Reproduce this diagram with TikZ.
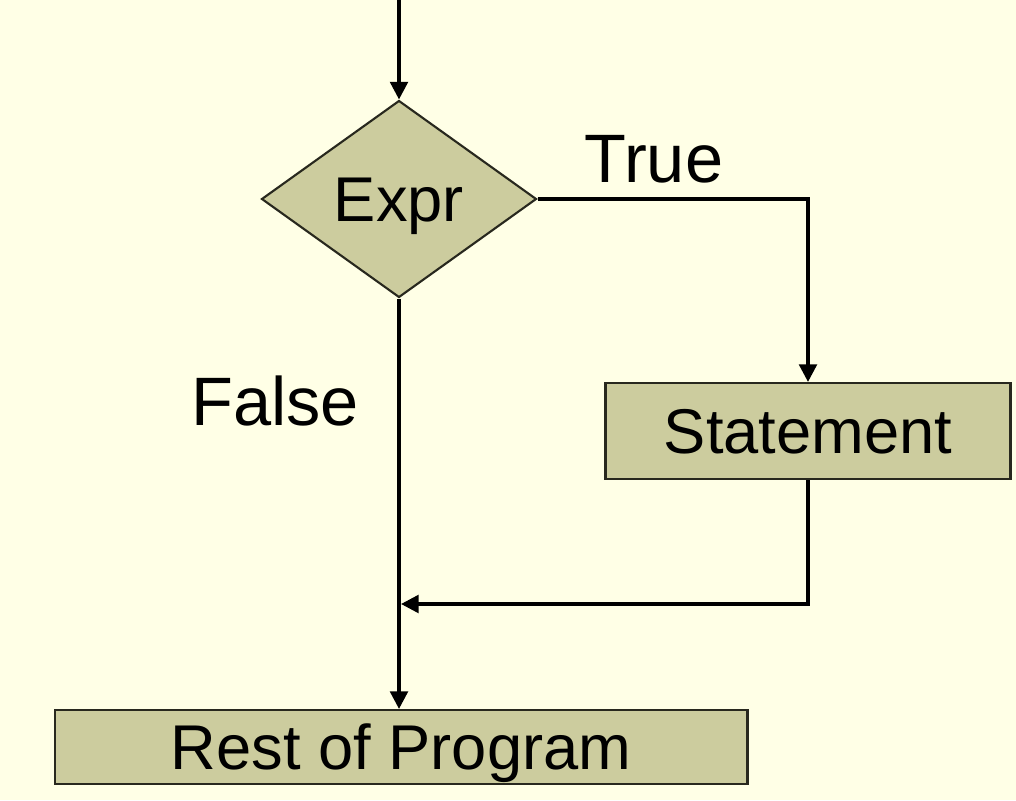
\documentclass[tikz,border=0pt]{standalone}
\usepackage{fontspec}
\setmainfont{Liberation Sans}
\usetikzlibrary{shapes.geometric,arrows.meta}
\definecolor{paper}{RGB}{255,255,230}
\definecolor{khaki}{RGB}{204,204,158}
\definecolor{rim}{RGB}{40,40,30}
\tikzset{
  box/.style={draw=rim, line width=1.2pt, fill=khaki, inner sep=0pt,
    text height=26pt, text depth=0pt, font=\fontsize{36}{40}\selectfont},
  test/.style={box, diamond, aspect=1.4, minimum width=5.5cm, minimum height=3.94cm},
  flow/.style={line width=2pt, -{Triangle[length=10pt,width=10pt]}},
  tag/.style={inner sep=0pt, text height=28pt, text depth=0pt, font=\fontsize{39}{44}\selectfont}
}
\begin{document}
\begin{tikzpicture}[x=0.02cm, y=-0.02cm]
    % Page and background
    \fill[paper] (0,0) rectangle (1016,800);
    \useasboundingbox (0,0) rectangle (1016,800);

    % Nodes
    \node[test] (expr) at (399,199) {Expr};
    \node[box, minimum width=8.1cm, minimum height=1.92cm] (stmt) at (808,431) {Statement};
    \node[box, minimum width=13.86cm, minimum height=1.48cm] (rest) at (401,747) {Rest of Program};
    \coordinate (entry) at (399,0);
    \coordinate (join) at (401,604);

    % Labels
    \node[tag] (true) at (654,158) {True};
    \node[tag] (false) at (275,401) {False};

    % Connectors
    \draw[flow] (entry) -- (expr.north);
    \draw[flow] (expr.east) -| (stmt.north);
    \draw[flow] (expr.south) -- (rest.north -| expr.south);
    \draw[flow] (stmt.south) |- (join);
\end{tikzpicture}
\end{document}
